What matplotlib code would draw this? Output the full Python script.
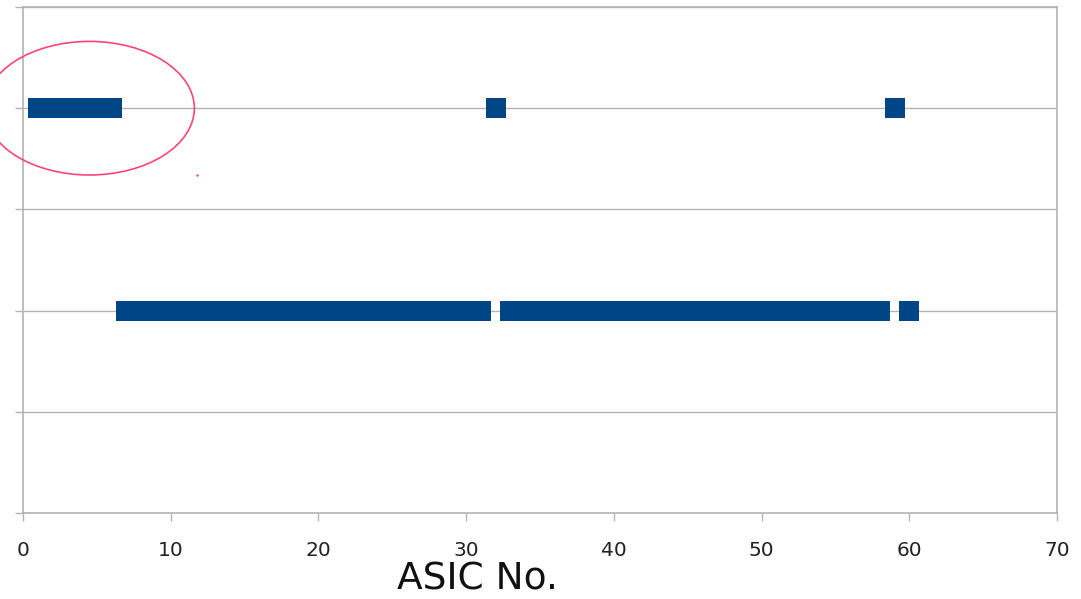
import matplotlib
matplotlib.use("Agg")
import matplotlib.pyplot as plt
from matplotlib.patches import Ellipse

# ASIC numbers per row
top_asics = [1, 2, 3, 4, 5, 6, 32, 59]
top_level = 4
mid_asics = list(range(7, 32)) + list(range(33, 59)) + [60]
mid_level = 2

grid_col = "#b3b3b3"
blue = "#004586"

fig = plt.figure(figsize=(10.81, 5.99), dpi=100)
ax = fig.add_axes([0.0213, 0.1436, 0.9565, 0.8447])

ax.plot(top_asics, [top_level] * len(top_asics), "s", color=blue,
        markersize=14.4, markeredgewidth=0, zorder=3)
ax.plot(mid_asics, [mid_level] * len(mid_asics), "s", color=blue,
        markersize=14.4, markeredgewidth=0, zorder=3)

ax.set_xlim(0, 70)
ax.set_ylim(0, 5)
ax.set_xticks(range(0, 71, 10))
ax.set_yticks(range(0, 6))
ax.set_yticklabels([])
ax.yaxis.grid(True, color=grid_col, linewidth=1)
ax.set_axisbelow(True)
for s in ax.spines.values():
    s.set_color(grid_col)
    s.set_linewidth(1.2)
ax.tick_params(axis="both", color=grid_col, length=6, width=1)
ax.tick_params(axis="x", labelsize=14.5, labelcolor="#222222", pad=14)

ax.set_xlabel("ASIC No.", fontsize=27, color="#111111", va="center")
ax.xaxis.set_label_coords(0.439, -0.132)

# highlight ellipse around the first ASICs
ell = Ellipse((4.5, 4.0), 14.2, 1.32, fill=False, edgecolor="#ff4477",
              linewidth=1.2, clip_on=False, zorder=4)
ax.add_patch(ell)
ax.plot([11.75], [3.34], ".", color="#ff4477", markersize=1.5, clip_on=False)

fig.savefig("out.png", dpi=100)
plt.close(fig)
